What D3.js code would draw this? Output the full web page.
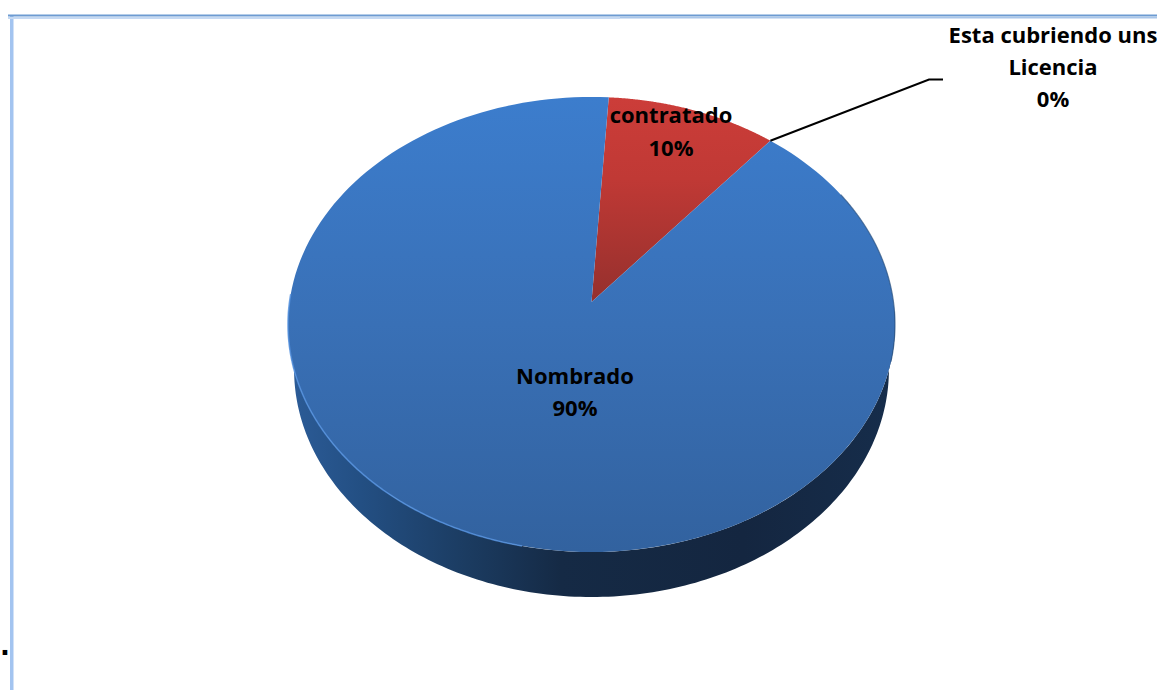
<!DOCTYPE html>
<html><head><meta charset="utf-8">
<script src="https://cdn.jsdelivr.net/npm/d3@7"></script>
<style>html,body{margin:0;padding:0;background:#fff;overflow:hidden}svg{display:block}</style>
</head><body><svg id="c" width="1157" height="690"></svg>
<script>
const categories = ["contratado", "Esta cubriendo uns Licencia", "Nombrado"];
const values = [10, 0, 90];
const percentLabels = ["10%", "0%", "90%"];

const svg = d3.select("#c");
const defs = svg.append("defs");
const W = 1157, H = 690;
const cx = 591.5, ay = 302, Rx = 302, Ry = 225.3, persp = 0.0989, depth = 45;
const start = 3.6 * Math.PI / 180;

const project = (a, r = 1, dy = 0, sx = 1) => {
  const u = r * Math.sin(a), v = r * Math.cos(a), w = 1 + persp * v;
  return [cx + sx * Rx * u / w, ay + dy - Ry * v / w];
};
const arcs = d3.pie().sort(null).value(d => d).startAngle(start).endAngle(start + 2 * Math.PI)(values);
const line = d3.line();
const samples = (a0, a1, f = project) => d3.range(0, 181).map(i => f(a0 + (a1 - a0) * i / 180));
const wedge = d => line([[cx, ay], ...samples(d.startAngle, d.endAngle)]) + "Z";

function grad(id, horizontal, stops) {
  const g = defs.append("linearGradient").attr("id", id).attr("gradientUnits", "userSpaceOnUse");
  if (horizontal) g.attr("x1", 288).attr("x2", 895).attr("y1", 0).attr("y2", 0);
  else g.attr("x1", 0).attr("x2", 0).attr("y1", 97).attr("y2", 552);
  stops.forEach(s => g.append("stop").attr("offset", s[0]).attr("stop-color", s[1]));
}
grad("blue", false, [[0, "#3c7dcd"], [0.5, "#3970b6"], [1, "#32629f"]]);
grad("wall", true, [[0, "#2c5c98"], [0.12, "#234f83"], [0.3, "#1b3b60"], [0.45, "#152a45"], [0.75, "#142640"], [1, "#162d4b"]]);
const red = defs.append("linearGradient").attr("id", "red").attr("gradientUnits", "userSpaceOnUse")
  .attr("x1", 0).attr("x2", 0).attr("y1", 97).attr("y2", 302);
red.append("stop").attr("offset", 0).attr("stop-color", "#cc3d39");
red.append("stop").attr("offset", 0.4).attr("stop-color", "#c03935");
red.append("stop").attr("offset", 1).attr("stop-color", "#95302d");

// frame
svg.append("rect").attr("x", 10).attr("y", 15).attr("width", 3.5).attr("height", H - 15).attr("fill", "#a3c4f0");
svg.append("rect").attr("x", 8).attr("y", 17).attr("width", 612).attr("height", 2).attr("fill", "#c5d9f3");
svg.append("rect").attr("x", 8).attr("y", 14.5).attr("width", W - 8).attr("height", 2).attr("fill", "#6d9bd2");
svg.append("rect").attr("x", 620).attr("y", 17).attr("width", W - 620).attr("height", 1.5).attr("fill", "#a9c6ea");

// side wall: top rim lower half + shifted narrower rim
const toRad = Math.PI / 180;
const rimA0 = 92 * toRad, rimA1 = 268 * toRad;
const topRim = samples(rimA0, rimA1);
const bottomRim = samples(rimA1, rimA0, a => project(a, 1, depth, 0.98));
svg.append("path").attr("d", line([...topRim, ...bottomRim]) + "Z").attr("fill", "url(#wall)");

// top wedges
svg.selectAll("path.wedge").data(arcs).join("path").attr("class", "wedge")
  .attr("d", wedge)
  .attr("fill", (d, i) => i === 0 ? "url(#red)" : "url(#blue)");

// rim highlight, lower left; thin dark edge on the right
svg.append("path").attr("fill", "none").attr("stroke", "#5491de").attr("stroke-width", 1.6).attr("stroke-opacity", .8)
  .attr("d", line(samples(192 * toRad, 272 * toRad)));
svg.append("path").attr("fill", "none").attr("stroke", "#28507f").attr("stroke-width", 1.2).attr("stroke-opacity", .7)
  .attr("d", line(samples(60 * toRad, 105 * toRad)));

// leader line
const lead = project(arcs[1].startAngle);
svg.append("path").attr("fill", "none").attr("stroke", "#000").attr("stroke-width", 2)
  .attr("d", line([lead, [929, 79.5], [943, 79.5]]));

// labels
const font = "'Open Sans', sans-serif";
function label(x, ys, lines) {
  lines.forEach((t, i) => svg.append("text").attr("x", x).attr("y", ys[i])
    .attr("text-anchor", "middle").attr("font-family", font).attr("font-weight", 700)
    .attr("font-size", 22).attr("fill", "#000").text(t));
}
label(671, [123, 156], [categories[0], percentLabels[0]]);
label(1053, [43, 75, 107], ["Esta cubriendo uns", "Licencia", percentLabels[1]]);
label(575, [384, 416], [categories[2], percentLabels[2]]);
svg.append("text").attr("x", 0).attr("y", 655).attr("font-family", "'DejaVu Sans', sans-serif").attr("font-weight", 700).attr("font-size", 26).text(".");
</script></body></html>
